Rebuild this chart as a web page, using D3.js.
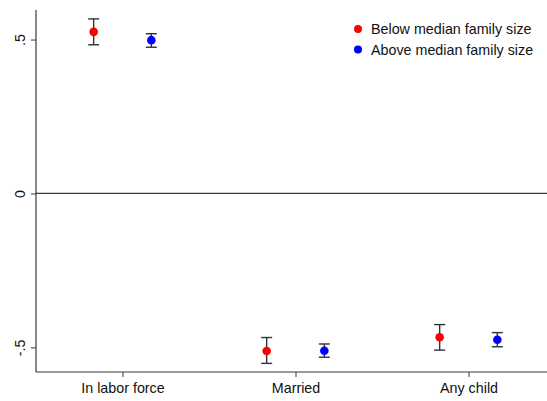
<!DOCTYPE html>
<html>
<head>
<meta charset="utf-8">
<script src="https://cdn.jsdelivr.net/npm/d3@7"></script>
<style>
  html, body { margin: 0; padding: 0; background: #fff; }
  svg { display: block; font-family: "Liberation Sans", Arial, Helvetica, sans-serif; }
</style>
</head>
<body>
<svg id="chart" width="547" height="401"></svg>
<script>
// Outcomes on the x axis
const categories = ["In labor force", "Married", "Any child"];

// Group labels and colours
const seriesNames = ["Below median family size", "Above median family size"];
const seriesColors = ["#ff0000", "#0000ff"];

// Point estimates and 95% confidence bounds, one entry per outcome
const belowEst = [0.525, -0.512, -0.467];
const belowLo  = [0.483, -0.552, -0.509];
const belowHi  = [0.567, -0.468, -0.426];

const aboveEst = [0.498, -0.511, -0.475];
const aboveLo  = [0.475, -0.532, -0.498];
const aboveHi  = [0.519, -0.489, -0.452];

const yTicks = [0.5, 0, -0.5];
const yTickLabels = [".5", "0", "-.5"];

const svg = d3.select("#chart");
const W = 547, H = 401;
const fontSize = 14.3;

// Scales
const x = d3.scaleLinear().domain([0.5, 3.5]).range([36, 555]);
const y = d3.scaleLinear().domain([-0.58, 0.596]).range([372, 10]);

const series = [
  { name: seriesNames[0], color: seriesColors[0], est: belowEst, lo: belowLo, hi: belowHi, off: -1 / 6 },
  { name: seriesNames[1], color: seriesColors[1], est: aboveEst, lo: aboveLo, hi: aboveHi, off: 1 / 6 }
];

const axisColor = "#3a3a3a";

// Zero reference line
svg.append("line")
  .attr("x1", x(0.5)).attr("x2", W)
  .attr("y1", y(0)).attr("y2", y(0))
  .attr("stroke", axisColor).attr("stroke-width", 1.2);

// Y axis
const yAxis = d3.axisLeft(y)
  .tickValues(yTicks)
  .tickSize(5)
  .tickFormat((d, i) => yTickLabels[i]);
const gy = svg.append("g")
  .attr("transform", `translate(${x(0.5)},0)`)
  .call(yAxis);
gy.select(".domain").attr("stroke", axisColor).attr("stroke-width", 1.2)
  .attr("d", `M0,${y.range()[1]}V${y.range()[0]}`);
gy.selectAll(".tick line").attr("stroke", axisColor).attr("stroke-width", 1);
gy.selectAll(".tick text")
  .attr("font-size", fontSize)
  .attr("fill", "#111")
  .attr("text-anchor", "middle")
  .attr("x", null).attr("dy", null)
  .attr("transform", "translate(-11,0) rotate(-90)");

// X axis
const xAxis = d3.axisBottom(x)
  .tickValues([1, 2, 3])
  .tickSize(5)
  .tickPadding(6)
  .tickFormat((d) => categories[d - 1]);
const gx = svg.append("g")
  .attr("transform", `translate(0,${y.range()[0]})`)
  .call(xAxis);
gx.select(".domain").attr("stroke", axisColor).attr("stroke-width", 1.2)
  .attr("d", `M${x(0.5)},0H${W}`);
gx.selectAll(".tick line").attr("stroke", axisColor).attr("stroke-width", 1);
gx.selectAll(".tick text").attr("font-size", fontSize).attr("fill", "#111");

// Error bars and markers
const capHalf = 5.5;
series.forEach((s) => {
  const g = svg.append("g");
  categories.forEach((c, i) => {
    const cx = x(i + 1 + s.off);
    g.append("line")
      .attr("x1", cx).attr("x2", cx)
      .attr("y1", y(s.hi[i])).attr("y2", y(s.lo[i]))
      .attr("stroke", "#333").attr("stroke-width", 1.4);
    [s.hi[i], s.lo[i]].forEach((v) => {
      g.append("line")
        .attr("x1", cx - capHalf).attr("x2", cx + capHalf)
        .attr("y1", y(v)).attr("y2", y(v))
        .attr("stroke", "#333").attr("stroke-width", 1.4);
    });
    g.append("circle")
      .attr("cx", cx).attr("cy", y(s.est[i]))
      .attr("r", 4.3)
      .attr("fill", s.color);
  });
});

// Legend
const legend = svg.append("g").attr("transform", "translate(358,29)");
series.forEach((s, i) => {
  const row = legend.append("g").attr("transform", `translate(0,${i * 20.5})`);
  row.append("circle").attr("r", 4).attr("fill", s.color);
  row.append("text")
    .attr("x", 13).attr("y", 5)
    .attr("font-size", fontSize)
    .attr("fill", "#111")
    .text(s.name);
});
</script>
</body>
</html>
